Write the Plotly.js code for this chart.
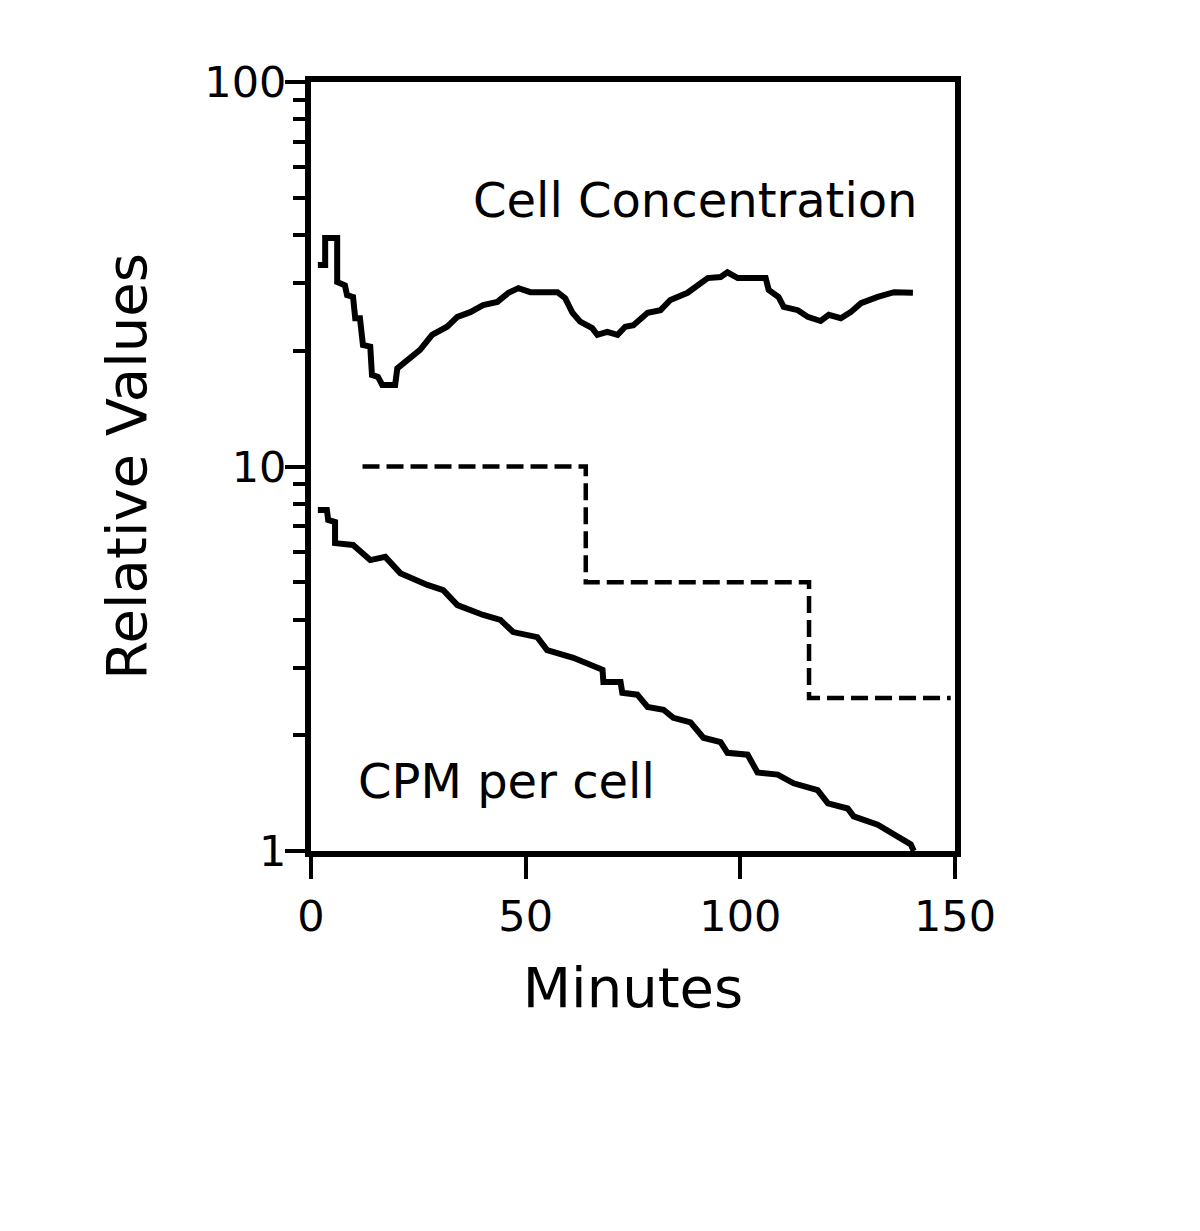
<!DOCTYPE html>
<html>
<head>
<meta charset="utf-8">
<script src="https://cdn.plot.ly/plotly-3.0.1.min.js"></script>
<style>
  html, body { margin: 0; padding: 0; background: #fff; }
  #chart { width: 1200px; height: 1231px; }
</style>
</head>
<body>
<div id="chart"></div>
<script>
// values (minutes, relative value)
const cell_minutes = [1.6, 3.3, 3.3, 6.1, 6.1, 7.9, 8.4, 9.8, 10.3, 11.4, 12.1, 13.8, 14.2, 15.6, 16.6, 19.6,
  20.1, 22.4, 25.4, 28.2, 31.7, 34.1, 37.1, 40.1, 43.4, 46.0, 48.3, 51.1, 57.4, 59.2, 60.9, 62.7,
  65.5, 66.7, 69.0, 71.4, 73.2, 75.1, 78.4, 81.4, 83.7, 87.7, 89.6, 92.4, 95.4, 97.0, 99.4, 105.9,
  106.6, 108.9, 110.1, 113.4, 115.7, 118.7, 120.6, 123.4, 125.7, 128.1, 132.0, 135.8, 140.2];
const cell_values = [33.4, 33.4, 39.3, 39.3, 30.2, 29.6, 27.9, 27.6, 24.3, 24.3, 20.7, 20.5, 17.3, 17.1, 16.3, 16.3,
  18.0, 18.9, 20.1, 22.0, 23.1, 24.5, 25.2, 26.3, 26.8, 28.3, 29.1, 28.4, 28.4, 27.4, 25.1, 23.8,
  22.9, 22.0, 22.4, 22.0, 23.1, 23.3, 25.1, 25.5, 27.1, 28.3, 29.3, 30.9, 31.1, 32.0, 30.9, 30.9,
  28.8, 27.6, 26.0, 25.5, 24.5, 23.9, 24.8, 24.3, 25.2, 26.6, 27.6, 28.4, 28.3];

const cpm_minutes = [1.6, 3.7, 4.0, 5.6, 5.6, 9.8, 13.8, 17.3, 20.8, 27.1, 30.8, 34.1, 40.1, 44.1, 47.1, 52.7,
  55.0, 61.1, 67.9, 68.1, 72.1, 72.5, 76.0, 78.4, 82.1, 84.4, 88.4, 91.4, 95.4, 97.0, 101.7, 104.0,
  108.7, 112.4, 118.0, 120.4, 125.0, 126.4, 132.0, 135.8, 139.7, 140.4];
const cpm_values = [7.71, 7.71, 7.26, 7.17, 6.32, 6.25, 5.71, 5.82, 5.28, 4.92, 4.77, 4.36, 4.11, 3.99, 3.71, 3.60,
  3.33, 3.18, 2.96, 2.75, 2.75, 2.58, 2.55, 2.37, 2.33, 2.22, 2.16, 1.97, 1.92, 1.80, 1.78, 1.60,
  1.58, 1.50, 1.44, 1.33, 1.29, 1.23, 1.17, 1.10, 1.04, 1.0];

const step_minutes = [12, 64, 116, 149];
const step_values = [10, 5, 2.5, 2.5];

const x_tick_values = [0, 50, 100, 150];
const y_tick_values = [1, 10, 100];

const labels = [
  { text: "Cell Concentration", x: 89.6, y: 49.3 },
  { text: "CPM per cell", x: 45.5, y: 1.52 },
];

const font_family = "DejaVu Sans, Liberation Sans, Arial, sans-serif";

const data = [
  {
    name: "Cell Concentration",
    x: cell_minutes,
    y: cell_values,
    mode: "lines",
    type: "scatter",
    line: { color: "black", width: 6 },
  },
  {
    name: "CPM per cell",
    x: cpm_minutes,
    y: cpm_values,
    mode: "lines",
    type: "scatter",
    line: { color: "black", width: 6 },
  },
  {
    name: "Steps",
    x: step_minutes,
    y: step_values,
    mode: "lines",
    type: "scatter",
    line: { color: "black", width: 4.5, shape: "hv", dash: "17px,7px" },
  },
];

const layout = {
  width: 1200,
  height: 1231,
  margin: { l: 311, r: 245, t: 82, b: 380 },
  paper_bgcolor: "white",
  plot_bgcolor: "white",
  showlegend: false,
  font: { family: font_family, color: "black" },
  xaxis: {
    range: [0, 150],
    tickvals: x_tick_values,
    ticktext: x_tick_values.map(String),
    ticks: "outside",
    ticklen: 22,
    tickwidth: 4,
    tickcolor: "black",
    tickfont: { size: 43 },
    showline: true,
    linewidth: 6,
    linecolor: "black",
    mirror: true,
    showgrid: false,
    zeroline: false,
    title: { text: "Minutes", font: { size: 56 }, standoff: 30 },
  },
  yaxis: {
    type: "log",
    range: [0, 2],
    tickvals: y_tick_values,
    ticktext: y_tick_values.map(String),
    ticks: "outside",
    ticklen: 20,
    tickwidth: 4,
    tickcolor: "black",
    tickfont: { size: 43 },
    ticklabelstandoff: -10,
    minor: { ticks: "outside", ticklen: 12, tickwidth: 4, dtick: "D1", tickcolor: "black", showgrid: false },
    showline: true,
    linewidth: 6,
    linecolor: "black",
    mirror: true,
    showgrid: false,
    zeroline: false,
    title: { text: "Relative Values", font: { size: 56 }, standoff: 42 },
  },
  annotations: labels.map(l => ({
    text: l.text,
    x: l.x,
    y: Math.log10(l.y),
    xref: "x",
    yref: "y",
    showarrow: false,
    font: { size: 48, family: font_family, color: "black" },
  })),
};

Plotly.newPlot("chart", data, layout, { displayModeBar: false, staticPlot: true });
</script>
</body>
</html>
